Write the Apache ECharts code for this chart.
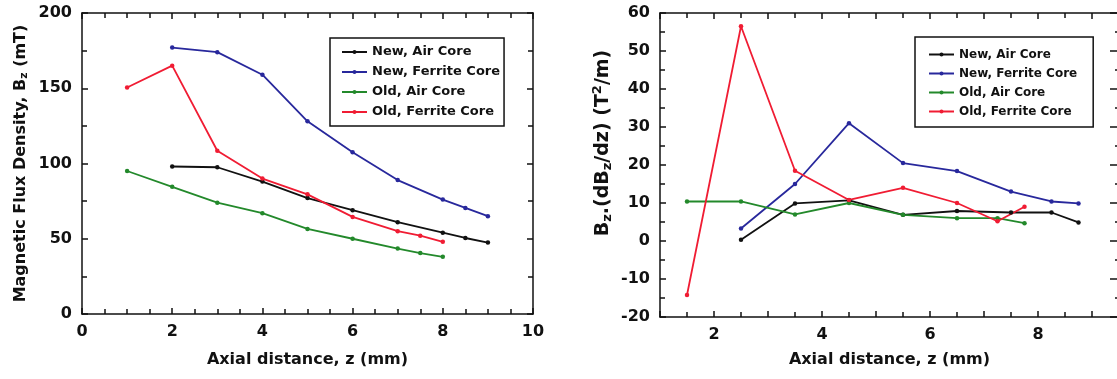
<!DOCTYPE html>
<html>
<head>
    <meta charset="utf-8">
    <title>Axial field and gradient</title>
    <script src="https://cdn.jsdelivr.net/npm/echarts@6/dist/echarts.min.js"></script>
    <style>
        body, html { margin: 0; padding: 0; width: 100%; height: 100%; overflow: hidden; background: #fff; }
        #main { width: 1117px; height: 379px; }
    </style>
</head>
<body>
    <div id="main"></div>
    <script type="text/javascript">
        // ---- data ----
        var seriesNames = ['New, Air Core', 'New, Ferrite Core', 'Old, Air Core', 'Old, Ferrite Core'];
        var seriesColors = ['#111111', '#28289c', '#23892b', '#f01c33'];

        // left panel: magnetic flux density Bz (mT) vs z (mm)
        var bNewZ = [2, 3, 4, 5, 6, 7, 8, 8.5, 9];
        var bNewAir = [98, 97.5, 88, 77, 69, 61, 54, 50.5, 47.5];
        var bNewFerrite = [177, 174, 159, 128, 107.5, 89, 76, 70.5, 65];
        var bOldZ = [1, 2, 3, 4, 5, 6, 7, 7.5, 8];
        var bOldAir = [95, 84.5, 74, 67, 56.5, 50, 43.5, 40.5, 38];
        var bOldFerrite = [150.5, 165, 108.5, 90, 79.5, 64.5, 55, 52, 48];

        // right panel: Bz.(dBz/dz) (T^2/m) vs z (mm)
        var gNewZ = [2.5, 3.5, 4.5, 5.5, 6.5, 7.5, 8.25, 8.75];
        var gNewAir = [0.3, 9.9, 10.7, 6.9, 7.9, 7.5, 7.5, 4.9];
        var gNewFerrite = [3.3, 15, 31, 20.5, 18.4, 13, 10.4, 9.9];
        var gOldZ = [1.5, 2.5, 3.5, 4.5, 5.5, 6.5, 7.25, 7.75];
        var gOldAir = [10.4, 10.4, 7, 10, 6.9, 6, 6, 4.7];
        var gOldFerrite = [-14.2, 56.5, 18.5, 10.8, 14, 10, 5.2, 9];

        var FONT = 'DejaVu Sans';

        function pairs(xs, ys) {
            return xs.map(function (x, i) { return [x, ys[i]]; });
        }

        function lineSeries(idx, xAxisIndex, yAxisIndex, xs, ys) {
            return {
                name: seriesNames[idx],
                type: 'line',
                xAxisIndex: xAxisIndex,
                yAxisIndex: yAxisIndex,
                data: pairs(xs, ys),
                symbol: 'circle',
                symbolSize: 4.5,
                color: seriesColors[idx],
                lineStyle: { width: 1.8, color: seriesColors[idx] },
                itemStyle: { color: seriesColors[idx] }
            };
        }

        var tickLabel = { fontFamily: FONT, fontWeight: 'bold', fontSize: 16, color: '#111' };
        var tickLine = { color: '#111', width: 1.5 };

        function frameAxis(base) {
            // shared look: black frame, inward ticks, minor ticks
            return Object.assign({
                type: 'value',
                axisLine: { onZero: false, lineStyle: { color: '#111', width: 1.5 } },
                axisTick: { inside: true, length: 6, lineStyle: tickLine },
                splitLine: { show: false },
                axisLabel: Object.assign({ margin: 10 }, tickLabel)
            }, base);
        }

        var myChart = echarts.init(document.getElementById('main'), null, { renderer: 'canvas' });

        var option = {
            animation: false,
            backgroundColor: '#fff',
            grid: [
                { left: 82, top: 13, width: 451, height: 301, outerBoundsMode: 'none' },
                { left: 660, top: 13, width: 459, height: 304, outerBoundsMode: 'none' }
            ],
            xAxis: [
                frameAxis({
                    gridIndex: 0, position: 'bottom', min: 0, max: 10, interval: 2,
                    minorTick: { show: true, splitNumber: 4, length: 5, lineStyle: tickLine },
                    name: 'Axial distance, z (mm)', nameLocation: 'middle', nameGap: 38,
                    nameTextStyle: { fontFamily: FONT, fontWeight: 'bold', fontSize: 16, color: '#111' }
                }),
                frameAxis({
                    gridIndex: 0, position: 'top', min: 0, max: 10, interval: 2,
                    minorTick: { show: true, splitNumber: 4, length: 5, lineStyle: tickLine },
                    axisLabel: { show: false }
                }),
                frameAxis({
                    gridIndex: 1, position: 'bottom', min: 1, max: 9.5, interval: 1,
                    minorTick: { show: true, splitNumber: 2, length: 5, lineStyle: tickLine },
                    axisLabel: Object.assign({
                        margin: 10,
                        formatter: function (v) { return v % 2 === 0 ? String(v) : ''; }
                    }, tickLabel),
                    name: 'Axial distance, z (mm)', nameLocation: 'middle', nameGap: 35,
                    nameTextStyle: { fontFamily: FONT, fontWeight: 'bold', fontSize: 16, color: '#111' }
                }),
                frameAxis({
                    gridIndex: 1, position: 'top', min: 1, max: 9.5, interval: 1,
                    minorTick: { show: true, splitNumber: 2, length: 5, lineStyle: tickLine },
                    axisLabel: { show: false }
                })
            ],
            yAxis: [
                frameAxis({
                    gridIndex: 0, position: 'left', min: 0, max: 200, interval: 50,
                    minorTick: { show: true, splitNumber: 2, length: 5, lineStyle: tickLine },
                    name: '{t|Magnetic Flux Density, B}{s|z}{t| (mT)}',
                    nameLocation: 'middle', nameGap: 52,
                    nameTextStyle: {
                        rich: {
                            t: { fontFamily: FONT, fontWeight: 'bold', fontSize: 16, color: '#111' },
                            s: { fontFamily: FONT, fontWeight: 'bold', fontSize: 11, color: '#111', padding: [8, 0, 0, 0] }
                        }
                    }
                }),
                frameAxis({
                    gridIndex: 0, position: 'right', min: 0, max: 200, interval: 50,
                    minorTick: { show: true, splitNumber: 2, length: 5, lineStyle: tickLine },
                    axisLabel: { show: false }
                }),
                frameAxis({
                    gridIndex: 1, position: 'left', min: -20, max: 60, interval: 10,
                    minorTick: { show: true, splitNumber: 2, length: 5, lineStyle: tickLine }
                }),
                frameAxis({
                    gridIndex: 1, position: 'right', min: -20, max: 60, interval: 10,
                    axisTick: { inside: true, length: 9, lineStyle: tickLine },
                    minorTick: { show: true, splitNumber: 2, length: 4, lineStyle: tickLine },
                    axisLabel: { show: false }
                })
            ],
            legend: [
                {
                    left: 330, top: 38, orient: 'vertical',
                    data: seriesNames,
                    itemWidth: 25, itemHeight: 5, itemGap: 6,
                    padding: [7, 4, 7, 11],
                    borderColor: '#111', borderWidth: 1.5,
                    textStyle: { fontFamily: FONT, fontWeight: 'bold', fontSize: 13, lineHeight: 14, color: '#111' }
                },
                {
                    left: 915, top: 37, orient: 'vertical',
                    data: seriesNames,
                    itemWidth: 25, itemHeight: 5, itemGap: 6,
                    padding: [11, 16, 9, 13],
                    borderColor: '#111', borderWidth: 1.5,
                    textStyle: { fontFamily: FONT, fontWeight: 'bold', fontSize: 12, lineHeight: 13, color: '#111' }
                }
            ],
            graphic: [
                {
                    type: 'text', x: 603, y: 143, rotation: Math.PI / 2,
                    style: {
                        text: '{t|B}{s|z}{t|.(dB}{s|z}{t|/dz) (T}{p|2}{t|/m)}',
                        align: 'center', verticalAlign: 'middle',
                        rich: {
                            t: { fontFamily: FONT, fontWeight: 'bold', fontSize: 19, fill: '#111', color: '#111' },
                            s: { fontFamily: FONT, fontWeight: 'bold', fontSize: 13, fill: '#111', color: '#111', padding: [9, 0, 0, 0] },
                            p: { fontFamily: FONT, fontWeight: 'bold', fontSize: 13, fill: '#111', color: '#111', padding: [0, 0, 10, 0] }
                        }
                    }
                }
            ],
            series: [
                lineSeries(0, 0, 0, bNewZ, bNewAir),
                lineSeries(1, 0, 0, bNewZ, bNewFerrite),
                lineSeries(2, 0, 0, bOldZ, bOldAir),
                lineSeries(3, 0, 0, bOldZ, bOldFerrite),
                lineSeries(0, 2, 2, gNewZ, gNewAir),
                lineSeries(1, 2, 2, gNewZ, gNewFerrite),
                lineSeries(2, 2, 2, gOldZ, gOldAir),
                lineSeries(3, 2, 2, gOldZ, gOldFerrite)
            ]
        };

        myChart.setOption(option);
    </script>
</body>
</html>
